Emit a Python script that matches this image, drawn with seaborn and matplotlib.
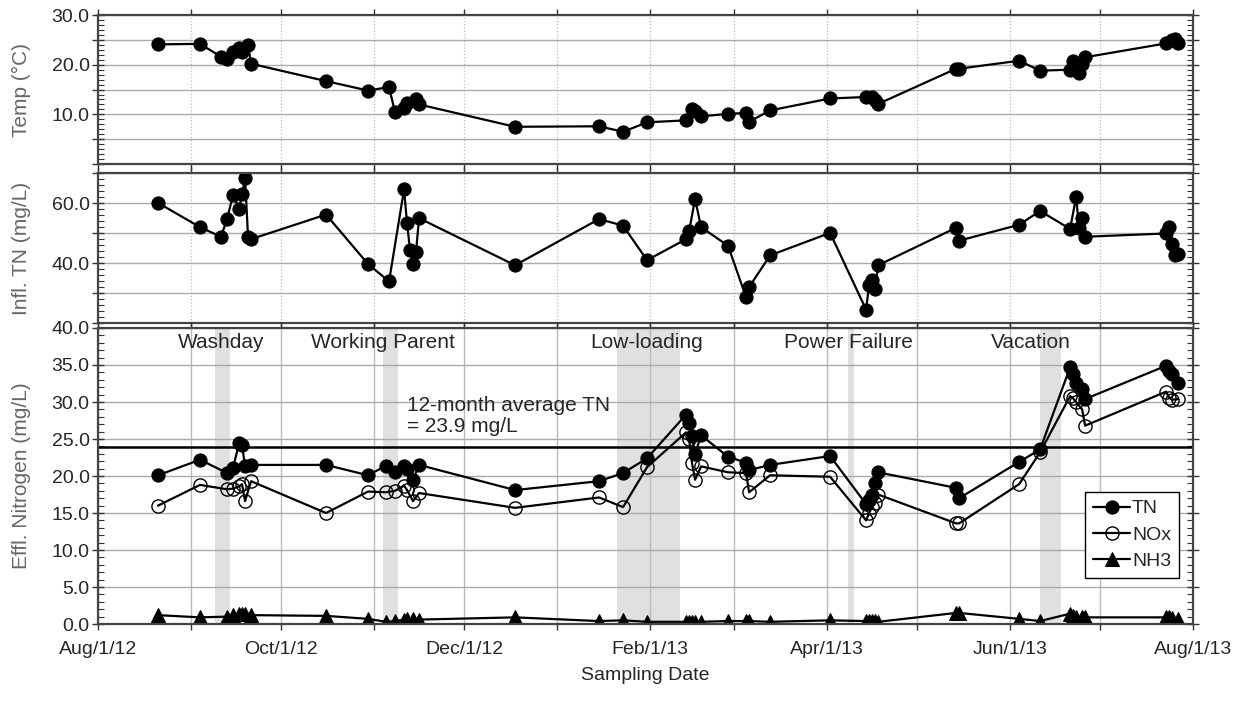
import pandas as pd
import matplotlib
matplotlib.use("Agg")
import matplotlib.pyplot as plt
import matplotlib.dates as mdates
import matplotlib.ticker as mticker
import seaborn as sns

# Temperature
temp_dates = ["2012-08-21", "2012-09-04", "2012-09-11", "2012-09-13", "2012-09-15", "2012-09-17",
              "2012-09-18", "2012-09-20", "2012-09-21", "2012-10-16", "2012-10-30", "2012-11-06",
              "2012-11-08", "2012-11-11", "2012-11-12", "2012-11-15", "2012-11-16", "2012-12-18",
              "2013-01-15", "2013-01-23", "2013-01-31", "2013-02-13", "2013-02-15", "2013-02-16",
              "2013-02-18", "2013-02-27", "2013-03-05", "2013-03-06", "2013-03-13", "2013-04-02",
              "2013-04-14", "2013-04-16", "2013-04-17", "2013-04-18", "2013-05-14", "2013-05-15",
              "2013-06-04", "2013-06-11", "2013-06-21", "2013-06-22", "2013-06-24", "2013-06-25",
              "2013-06-26", "2013-07-23", "2013-07-25", "2013-07-26", "2013-07-27"]
temp_values = [24.1, 24.2, 21.6, 21.2, 22.6, 23.4, 22.6, 24.0, 20.2, 16.7, 14.8, 15.5,
               10.4, 11.3, 12.3, 13.1, 12.0, 7.5, 7.6, 6.5, 8.4, 8.8, 11.1, 10.7,
               9.6, 10.1, 10.3, 8.5, 10.8, 13.2, 13.5, 13.4, 12.8, 12.1, 19.2, 19.2,
               20.8, 18.8, 19.0, 20.8, 18.4, 20.2, 21.5, 24.3, 25.0, 25.2, 24.3]

# Influent TN
infl_dates = ["2012-08-21", "2012-09-04", "2012-09-11", "2012-09-13", "2012-09-15", "2012-09-17",
              "2012-09-18", "2012-09-19", "2012-09-20", "2012-09-21", "2012-10-16", "2012-10-30",
              "2012-11-06", "2012-11-11", "2012-11-12", "2012-11-13", "2012-11-14", "2012-11-15",
              "2012-11-16", "2012-12-18", "2013-01-15", "2013-01-23", "2013-01-31", "2013-02-13",
              "2013-02-14", "2013-02-16", "2013-02-18", "2013-02-27", "2013-03-05", "2013-03-06",
              "2013-03-13", "2013-04-02", "2013-04-14", "2013-04-15", "2013-04-16", "2013-04-17",
              "2013-04-18", "2013-05-14", "2013-05-15", "2013-06-04", "2013-06-11", "2013-06-21",
              "2013-06-23", "2013-06-24", "2013-06-25", "2013-06-26", "2013-07-23", "2013-07-24",
              "2013-07-25", "2013-07-26", "2013-07-27"]
infl_tn = [60.1, 52.0, 48.8, 54.7, 62.7, 58.2, 62.9, 68.4, 48.8, 48.0, 56.2, 39.7,
           33.9, 64.6, 53.3, 44.3, 39.8, 43.8, 55.0, 39.3, 54.7, 52.5, 41.0, 48.0,
           50.6, 61.4, 52.0, 45.8, 28.6, 32.0, 42.6, 50.1, 24.5, 32.8, 34.5, 31.4,
           39.3, 51.8, 47.5, 52.8, 57.4, 51.4, 62.1, 51.7, 55.1, 48.8, 49.9, 52.2,
           46.3, 42.6, 42.9]

# Effluent nitrogen
effl_dates = ["2012-08-21", "2012-09-04", "2012-09-13", "2012-09-15", "2012-09-17", "2012-09-18",
              "2012-09-19", "2012-09-21", "2012-10-16", "2012-10-30", "2012-11-05", "2012-11-08",
              "2012-11-11", "2012-11-12", "2012-11-14", "2012-11-16", "2012-12-18", "2013-01-15",
              "2013-01-23", "2013-01-31", "2013-02-13", "2013-02-14", "2013-02-15", "2013-02-16",
              "2013-02-18", "2013-02-27", "2013-03-05", "2013-03-06", "2013-03-13", "2013-04-02",
              "2013-04-14", "2013-04-15", "2013-04-16", "2013-04-17", "2013-04-18", "2013-05-14",
              "2013-05-15", "2013-06-04", "2013-06-11", "2013-06-21", "2013-06-22", "2013-06-23",
              "2013-06-25", "2013-06-26", "2013-07-23", "2013-07-24", "2013-07-25", "2013-07-27"]
effl_tn = [20.1, 22.2, 20.4, 21.1, 24.4, 24.2, 21.3, 21.5, 21.5, 20.1, 21.4, 20.5,
           21.4, 21.0, 19.5, 21.5, 18.1, 19.3, 20.4, 22.4, 28.3, 27.2, 25.4, 23.0,
           25.5, 22.6, 21.8, 20.8, 21.5, 22.7, 16.2, 16.8, 17.5, 19.1, 20.5, 18.4,
           17.0, 21.9, 23.6, 34.7, 33.8, 32.6, 31.7, 30.4, 34.9, 34.2, 33.8, 32.5]
effl_nox = [16.0, 18.8, 18.2, 18.3, 18.6, 18.9, 16.6, 19.3, 15.0, 17.9, 17.8, 18.0,
            18.7, 18.1, 16.6, 17.7, 15.7, 17.1, 15.8, 21.2, 25.9, 25.0, 21.7, 19.5,
            21.3, 20.5, 20.4, 17.8, 20.1, 19.9, 14.0, 15.0, 15.8, 16.3, 17.5, 13.6,
            13.6, 18.9, 23.2, 30.8, 30.5, 30.0, 29.0, 26.8, 31.4, 30.6, 30.3, 30.4]
effl_nh3 = [1.2, 0.9, 1.0, 1.2, 1.3, 1.3, 1.3, 1.2, 1.1, 0.7, 0.3, 0.4,
            0.6, 0.7, 0.7, 0.6, 0.9, 0.4, 0.5, 0.3, 0.3, 0.3, 0.3, 0.3,
            0.3, 0.4, 0.4, 0.4, 0.3, 0.5, 0.4, 0.4, 0.4, 0.4, 0.3, 1.5,
            1.5, 0.7, 0.4, 1.4, 1.1, 1.0, 0.9, 0.9, 0.9, 0.9, 0.8, 0.7]

# Events
event_names = ["Washday", "Working Parent", "Low-loading", "Power Failure", "Vacation"]
event_starts = ["2012-09-09", "2012-11-04", "2013-01-21", "2013-04-08", "2013-06-11"]
event_ends = ["2012-09-14", "2012-11-09", "2013-02-11", "2013-04-10", "2013-06-18"]
event_label_dates = ["2012-09-11", "2012-11-04", "2013-01-31", "2013-04-08", "2013-06-08"]
avg_tn = 23.9

temp = pd.DataFrame({"date": pd.to_datetime(temp_dates), "value": temp_values})
infl = pd.DataFrame({"date": pd.to_datetime(infl_dates), "value": infl_tn})
effl = pd.DataFrame({"date": pd.to_datetime(effl_dates), "TN": effl_tn,
                     "NOx": effl_nox, "NH3": effl_nh3})

sns.set_style("white")
plt.rcParams["font.family"] = ["Liberation Sans", "DejaVu Sans"]
plt.rcParams["font.size"] = 14

fig = plt.figure(figsize=(12.44, 7.04), dpi=100)
left, width = 0.0788, 0.8803
ax1 = fig.add_axes([left, 0.767, width, 0.2116])
ax2 = fig.add_axes([left, 0.541, width, 0.213])
ax3 = fig.add_axes([left, 0.1136, width, 0.4205])

line_kw = dict(color="black", linewidth=1.6, sort=False, estimator=None)

sns.lineplot(data=temp, x="date", y="value", ax=ax1, marker="o", markersize=9.5,
             markeredgecolor="black", **line_kw)
sns.lineplot(data=infl, x="date", y="value", ax=ax2, marker="o", markersize=9.5,
             markeredgecolor="black", **line_kw)

# shaded events
for name, s, e, lx in zip(event_names, event_starts, event_ends, event_label_dates):
    ax3.axvspan(pd.Timestamp(s), pd.Timestamp(e), color="#e0e0e0", zorder=0, lw=0)
    ax3.text(pd.Timestamp(lx), 38.0, name, ha="center", va="center", fontsize=15)

ax3.axhline(avg_tn, color="black", linewidth=1.8, zorder=2)
ax3.text(pd.Timestamp("2012-11-12"), 28.1, "12-month average TN\n= 23.9 mg/L",
         ha="left", va="center", fontsize=15, linespacing=1.15)

sns.lineplot(data=effl, x="date", y="TN", ax=ax3, marker="o", markersize=9.5,
             markeredgecolor="black", label="TN", **line_kw)
sns.lineplot(data=effl, x="date", y="NOx", ax=ax3, marker="o", markersize=9.5,
             markerfacecolor="none", markeredgecolor="black", markeredgewidth=1.0,
             label="NOx", **line_kw)
sns.lineplot(data=effl, x="date", y="NH3", ax=ax3, marker="^", markersize=9.5,
             markeredgecolor="black", label="NH3", **line_kw)

xmin, xmax = pd.Timestamp("2012-08-01"), pd.Timestamp("2013-08-01")


def date_fmt(x, pos):
    d = mdates.num2date(x)
    return f"{d:%b}/{d.day}/{d:%y}"


ylims = [(0, 30), (20, 70), (0, 40)]
majors = [5, 10, 5]
minors = [1, 2, 1]
shown = [lambda v: v % 10 == 0 and v > 0,
         lambda v: v in (40, 60),
         lambda v: True]
ylabels = ["Temp (\u00b0C)", "Infl. TN (mg/L)", "Effl. Nitrogen (mg/L)"]

for i, ax in enumerate([ax1, ax2, ax3]):
    ax.set_xlim(xmin, xmax)
    ax.set_ylim(*ylims[i])
    ax.xaxis.set_major_locator(mdates.MonthLocator(bymonth=[2, 4, 6, 8, 10, 12]))
    ax.xaxis.set_minor_locator(mdates.MonthLocator())
    ax.yaxis.set_major_locator(mticker.MultipleLocator(majors[i]))
    ax.yaxis.set_minor_locator(mticker.MultipleLocator(minors[i]))
    f = shown[i]
    ax.yaxis.set_major_formatter(mticker.FuncFormatter(
        lambda v, p, f=f: f"{v:.1f}" if f(round(v)) else ""))
    if i < 2:
        ax.xaxis.grid(True, which="both", color="#bbbbbb", linestyle=":", linewidth=0.9)
        ax.tick_params(axis="x", labelbottom=False)
        ax.set_xlabel("")
    else:
        ax.xaxis.grid(True, which="both", color="#bbbbbb", linestyle="-", linewidth=1.0)
        ax.xaxis.set_major_formatter(mticker.FuncFormatter(date_fmt))
        ax.set_xlabel("Sampling Date", fontsize=14, labelpad=7)
    ax.yaxis.grid(True, which="major", color="#aaaaaa", linestyle="-", linewidth=1.0)
    ax.set_axisbelow(True)
    ax.tick_params(axis="both", which="both", top=True, right=True, left=True, bottom=True,
                   color="#333333", labelsize=14)
    ax.tick_params(axis="y", which="major", direction="inout", length=8, width=1, pad=2)
    ax.tick_params(axis="y", which="minor", direction="in", length=4, width=0.8)
    ax.tick_params(axis="x", which="both", direction="out", length=4, width=1, pad=8)
    ax.set_ylabel(ylabels[i], fontsize=15, color="#666666")
    ax.yaxis.set_label_coords(-0.061, 0.5)
    for sp in ax.spines.values():
        sp.set_color("#444444")
        sp.set_linewidth(1.6)
    if ax.get_legend() is not None:
        ax.get_legend().remove()

leg = ax3.legend(loc="upper right", bbox_to_anchor=(0.987, 0.446), borderaxespad=0,
                 frameon=True, fancybox=False, edgecolor="black", framealpha=1, fontsize=14,
                 handlelength=1.9, handletextpad=0.1, labelspacing=0.45, borderpad=0.4)
leg.get_frame().set_linewidth(1.0)

fig.savefig("out.png", dpi=100)
